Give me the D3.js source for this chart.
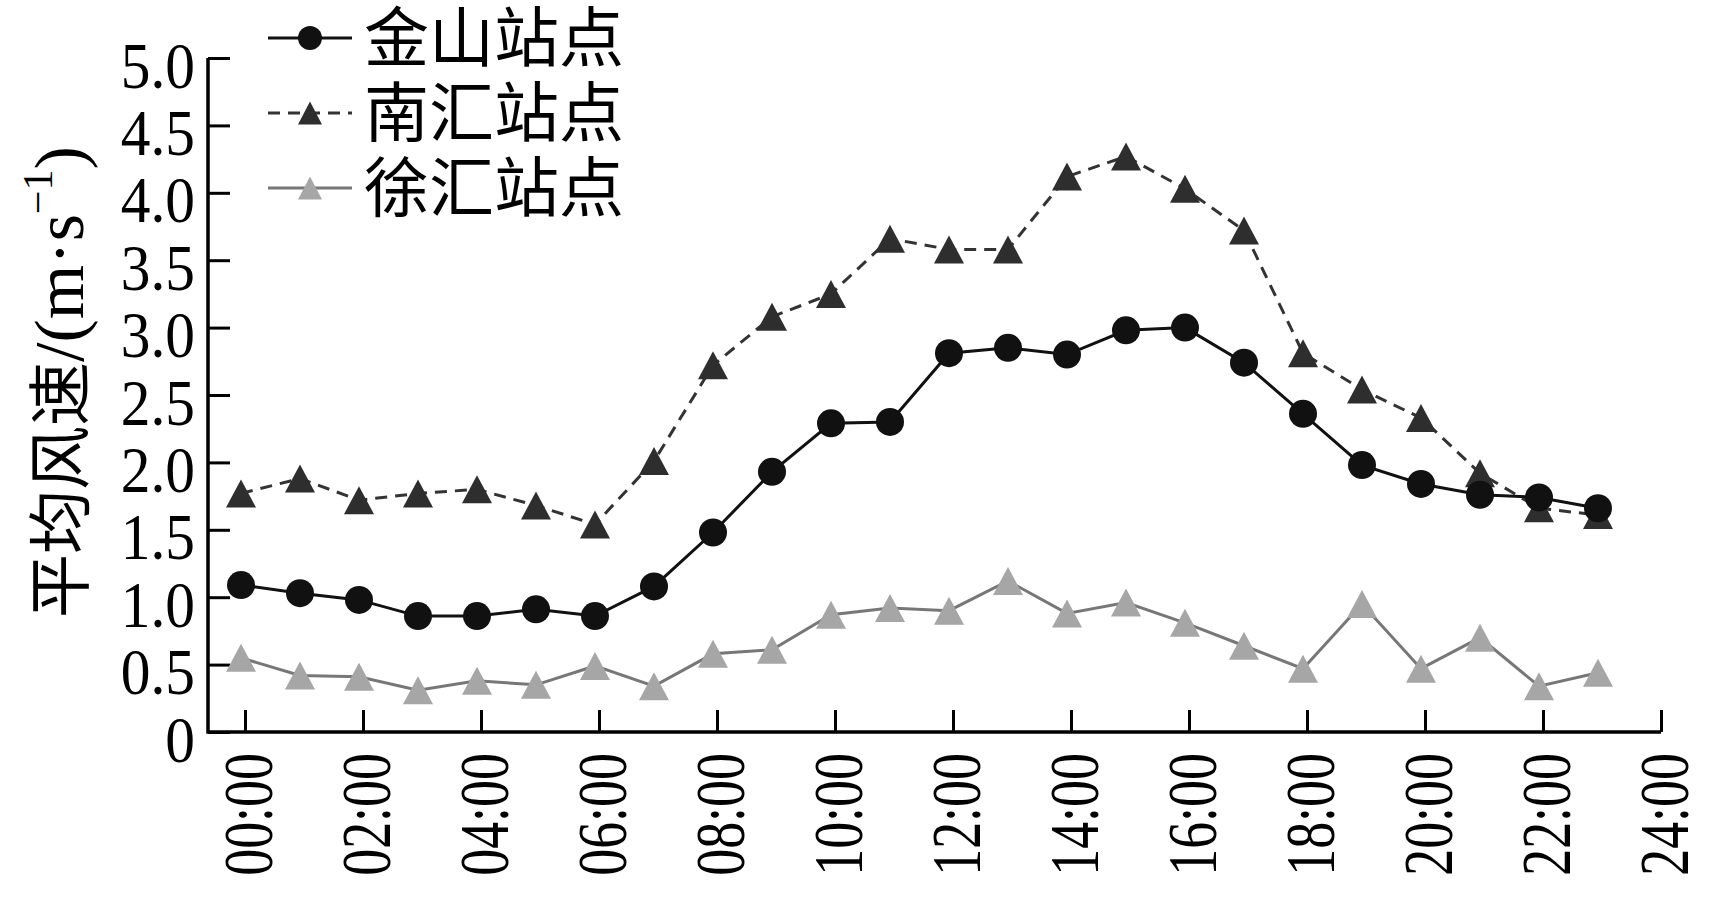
<!DOCTYPE html>
<html lang="zh">
<head>
    <meta charset="UTF-8">
    <title>平均风速</title>
    <script src="https://cdnjs.cloudflare.com/ajax/libs/d3/7.8.5/d3.min.js"></script>
    <style>
        html, body { margin: 0; padding: 0; background: #fff; }
        svg { display: block; }
    </style>
</head>
<body>
<div id="chart"></div>
<script>
    // hours 0..23, one point per hour
    const hours = d3.range(0, 24);

    const stations = ['金山站点', '南汇站点', '徐汇站点'];

    const jinshan = [1.09, 1.03, 0.98, 0.86, 0.86, 0.91, 0.86, 1.08, 1.48, 1.93, 2.29, 2.30,
                     2.81, 2.85, 2.80, 2.98, 3.00, 2.74, 2.36, 1.98, 1.84, 1.76, 1.74, 1.66];
    const nanhui  = [1.77, 1.88, 1.72, 1.77, 1.80, 1.68, 1.54, 2.01, 2.72, 3.08, 3.25, 3.66,
                     3.58, 3.58, 4.12, 4.27, 4.03, 3.72, 2.81, 2.54, 2.33, 1.92, 1.66, 1.61];
    const xuhui   = [0.55, 0.42, 0.41, 0.31, 0.38, 0.35, 0.49, 0.34, 0.58, 0.61, 0.87, 0.92,
                     0.90, 1.12, 0.88, 0.96, 0.81, 0.64, 0.47, 0.95, 0.47, 0.70, 0.34, 0.44];

    const yTicks = [0, 0.5, 1.0, 1.5, 2.0, 2.5, 3.0, 3.5, 4.0, 4.5, 5.0];
    const xTicks = d3.range(0, 25, 2);

    const width = 1722, height = 904;

    const svg = d3.select('#chart').append('svg')
        .attr('width', width)
        .attr('height', height);

    const x = d3.scaleLinear().domain([0, 24]).range([245, 1661]);
    const y = d3.scaleLinear().domain([0, 5]).range([732, 58]);
    const axisLeft = 208;

    const numFont = '"Liberation Serif", "DejaVu Serif", serif';
    const cjkFont = '"Noto Sans CJK SC", "Noto Sans", sans-serif';

    // y axis
    const yAxis = svg.append('g')
        .attr('transform', `translate(${axisLeft},0)`)
        .call(d3.axisRight(y).tickValues(yTicks).tickSize(22).tickFormat(''));
    yAxis.select('.domain').remove();
    yAxis.selectAll('line').attr('stroke', '#000').attr('stroke-width', 3);

    yAxis.selectAll('.tick').append('text')
        .attr('fill', '#000')
        .attr('text-anchor', 'end')
        .attr('transform', 'translate(-13,6) scale(0.9,1)')
        .attr('dy', '0.35em')
        .style('font-family', numFont)
        .style('font-size', '66px')
        .text(d => d === 0 ? '0' : d3.format('.1f')(d));

    // x axis
    const xAxis = svg.append('g')
        .attr('transform', `translate(0,${y(0)})`)
        .call(d3.axisTop(x).tickValues(xTicks).tickSize(22).tickFormat(''));
    xAxis.select('.domain').remove();
    xAxis.selectAll('line').attr('stroke', '#000').attr('stroke-width', 3);

    xAxis.selectAll('.tick').append('text')
        .attr('fill', '#000')
        .attr('text-anchor', 'end')
        .attr('transform', 'translate(2,21) rotate(-90) scale(0.77,1)')
        .attr('dy', '0.35em')
        .style('font-family', numFont)
        .style('font-size', '70px')
        .text(d => d3.format('02d')(d) + ':00');

    // axis lines
    svg.append('path')
        .attr('d', `M${axisLeft},${y(5)}V${y(0)}H${x(24)}`)
        .attr('fill', 'none')
        .attr('stroke', '#000')
        .attr('stroke-width', 3.5);

    // y axis title
    const yTitle = svg.append('text')
        .attr('transform', `translate(60,382) rotate(-90)`)
        .attr('text-anchor', 'middle')
        .attr('dy', '0.36em')
        .attr('fill', '#000')
        .style('font-size', '64px');
    yTitle.append('tspan').style('font-family', cjkFont).text('平均风速');
    yTitle.append('tspan').style('font-family', numFont).style('font-size', '70px').text('/(m·s');
    yTitle.append('tspan').style('font-family', numFont).style('font-size', '42px')
        .attr('dy', '-0.75em').text('−1');
    yTitle.append('tspan').style('font-family', numFont).style('font-size', '70px')
        .attr('dy', '0.45em').text(')');

    function triangle(w, h) {
        return `M0,${-h / 2}L${w / 2},${h / 2}L${-w / 2},${h / 2}Z`;
    }

    const series = [
        {name: stations[0], values: jinshan, line: '#111', dash: null, lw: 3, marker: 'circle', fill: '#111'},
        {name: stations[1], values: nanhui, line: '#333', dash: '12,8', lw: 3, marker: 'tri', fill: '#2e2e2e'},
        {name: stations[2], values: xuhui, line: '#777', dash: null, lw: 3, marker: 'tri', fill: '#a6a6a6'}
    ];

    const line = d3.line()
        .x((d, i) => x(hours[i]) - 4)
        .y(d => y(d));

    // draw lines then markers, xuhui first so black sits on top
    const order = [2, 1, 0];
    order.forEach(k => {
        const s = series[k];
        svg.append('path')
            .datum(s.values)
            .attr('d', line)
            .attr('fill', 'none')
            .attr('stroke', s.line)
            .attr('stroke-width', s.lw)
            .attr('stroke-dasharray', s.dash);
    });
    order.forEach(k => {
        const s = series[k];
        const g = svg.append('g');
        if (s.marker === 'circle') {
            g.selectAll('circle')
                .data(s.values)
                .join('circle')
                .attr('cx', (d, i) => x(hours[i]) - 4)
                .attr('cy', d => y(d))
                .attr('r', 14)
                .attr('fill', s.fill);
        } else {
            g.selectAll('path')
                .data(s.values)
                .join('path')
                .attr('d', triangle(30, 28))
                .attr('transform', (d, i) => `translate(${x(hours[i]) - 4},${y(d)})`)
                .attr('fill', s.fill);
        }
    });

    // legend
    const legend = svg.append('g');
    const legendRows = [38, 113, 188];
    series.forEach((s, i) => {
        const row = legend.append('g').attr('transform', `translate(0,${legendRows[i]})`);
        row.append('line')
            .attr('x1', 268).attr('x2', 352)
            .attr('stroke', s.line)
            .attr('stroke-width', s.lw)
            .attr('stroke-dasharray', s.dash);
        if (s.marker === 'circle') {
            row.append('circle').attr('cx', 310).attr('r', 12).attr('fill', s.fill);
        } else {
            row.append('path').attr('d', triangle(24, 23))
                .attr('transform', 'translate(310,0)').attr('fill', s.fill);
        }
        row.append('text')
            .attr('x', 364)
            .attr('dy', '0.36em')
            .attr('fill', '#000')
            .style('font-family', cjkFont)
            .style('font-size', '65px')
            .text(s.name);
    });
</script>
</body>
</html>
